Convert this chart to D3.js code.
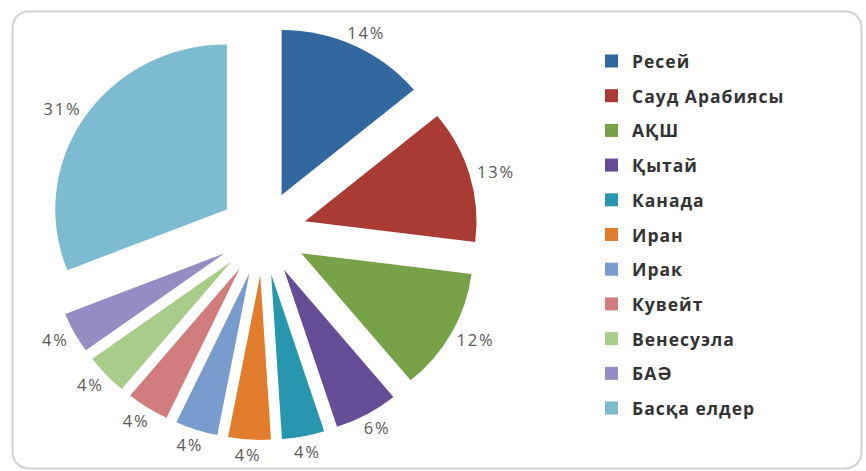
<!DOCTYPE html>
<html><head><meta charset="utf-8">
<script src="https://cdn.jsdelivr.net/npm/d3@7"></script>
<style>body{margin:0;background:#fff;overflow:hidden}</style>
</head><body>
<svg id="chart" width="866" height="471"></svg>
<script>
const categories = ["Ресей","Сауд Арабиясы","АҚШ","Қытай","Канада","Иран","Ирак","Кувейт","Венесуэла","БАӘ","Басқа елдер"];
const shares = [14,13,12,6,4,4,4,4,4,4,31];
const colors = ["#33679F","#AA3A34","#78A248","#644C96","#2896AF","#E17D2D","#7A9BCD","#D27D7D","#A8CC8A","#968CC3","#7DBBD0"];
const labelSuffix = "%";

const svg = d3.select("#chart");

// frame
svg.append("rect")
  .attr("x", 12.5).attr("y", 11.5).attr("width", 849).attr("height", 457)
  .attr("rx", 16).attr("ry", 16)
  .attr("fill", "#fff").attr("stroke", "#d2d2d2").attr("stroke-width", 2);

const cx = 263, cy = 233, R = 165, explode = 42, pad = 8, sx = 1.04;
const pie = d3.pie().sort(null).value(d => d);
const arcs = pie(shares);
const arc = d3.arc().innerRadius(0).outerRadius(R);

const gPie = svg.append("g").attr("transform", `translate(${cx},${cy}) scale(${sx},1)`);
const gLab = svg.append("g").attr("transform", `translate(${cx},${cy})`);

arcs.forEach((a, i) => {
  const mid = (a.startAngle + a.endAngle) / 2;
  const ux = Math.sin(mid), uy = -Math.cos(mid);
  const ox = ux * explode, oy = uy * explode;
  gPie.append("path")
    .attr("d", arc(a))
    .attr("transform", `translate(${ox},${oy})`)
    .attr("fill", colors[i]);
  const t = gLab.append("text")
    .text(shares[i] + labelSuffix)
    .attr("font-family", "'Open Sans', sans-serif")
    .attr("font-size", 16.5)
    .attr("letter-spacing", 1.8)
    .attr("fill", "#595959")
    .attr("text-anchor", "middle")
    .attr("dominant-baseline", "central");
  const w = t.node().getComputedTextLength(), h = 14;
  const px = sx * (ox + ux * (R + pad)) + ux * w / 2;
  const py = oy + uy * (R + pad) + uy * h / 2;
  t.attr("x", px).attr("y", py);
});

// legend
const legend = svg.append("g").attr("transform", "translate(605,61)");
const rowY = d3.scalePoint().domain(categories).range([0, 347]);
categories.forEach((c, i) => {
  const row = legend.append("g").attr("transform", `translate(0,${rowY(c)})`);
  row.append("rect").attr("x", 0).attr("y", -6.5).attr("width", 13).attr("height", 13).attr("fill", colors[i]);
  row.append("text").attr("x", 27).attr("y", 0)
    .attr("dominant-baseline", "central")
    .attr("font-family", "'Open Sans', sans-serif")
    .attr("font-weight", "bold")
    .attr("font-size", 17.5)
    .attr("letter-spacing", 1.0)
    .attr("fill", "#333")
    .text(c);
});
</script>
</body></html>
